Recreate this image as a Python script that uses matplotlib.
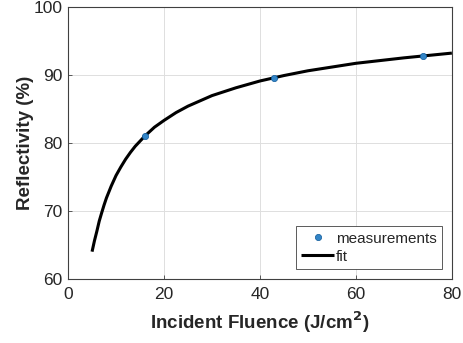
import matplotlib
matplotlib.use("Agg")
import matplotlib.pyplot as plt

# measurement data
meas_x = [16, 43, 74]
meas_y = [81.0, 89.6, 92.8]

# fit curve samples
fit_x = [5, 5.5, 6, 6.5, 7, 7.5, 8, 9, 10, 11, 12, 13, 14, 16, 18, 20, 22.5, 25, 30, 35,
         40, 45, 50, 55, 60, 65, 70, 75, 80]
fit_y = [64.0, 65.6, 67.0, 68.5, 69.7, 70.85, 71.9, 73.65, 75.2, 76.45, 77.6, 78.6, 79.5,
         81.0, 82.3, 83.3, 84.45, 85.4, 86.95, 88.1, 89.1, 89.9, 90.6, 91.15, 91.7, 92.1,
         92.5, 92.85, 93.2]

x_ticks = [0, 20, 40, 60, 80]
y_ticks = [60, 70, 80, 90, 100]

plt.rcParams['font.family'] = ['Liberation Sans', 'DejaVu Sans']

fig = plt.figure(figsize=(4.63, 3.43), dpi=100)
ax = fig.add_axes([0.147, 0.187, 0.829, 0.793])

ax.plot(meas_x, meas_y, 'o', color=(0.2, 0.52, 0.78), markersize=4.5,
        markeredgecolor=(0.05, 0.35, 0.6), markeredgewidth=0.5, label='measurements', zorder=3)
ax.plot(fit_x, fit_y, '-', color='black', linewidth=2.2, label='fit', zorder=2,
        solid_joinstyle='round', solid_capstyle='butt')

ax.set_xlim(0, 80)
ax.set_ylim(60, 100)
ax.set_xticks(x_ticks)
ax.set_yticks(y_ticks)
ax.grid(True, color=(0.87, 0.87, 0.87), linewidth=0.7)
ax.set_axisbelow(True)
for s in ax.spines.values():
    s.set_color((0.25, 0.25, 0.25))
    s.set_linewidth(0.8)
ax.tick_params(direction='in', length=3, width=0.6, colors=(0.25, 0.25, 0.25),
               labelcolor=(0.15, 0.15, 0.15), labelsize=12.5, top=False, right=False)
ax.tick_params(axis='x', pad=6)
ax.tick_params(axis='y', pad=4)

ax.set_xlabel('Incident Fluence (J/cm$^{\\mathbf{2}}$)', fontsize=13.5, fontweight='bold',
              labelpad=5, color=(0.15, 0.15, 0.15))
ax.set_ylabel('Reflectivity (%)', fontsize=13.5, fontweight='bold', labelpad=0,
              color=(0.15, 0.15, 0.15))

leg = ax.legend(loc='lower right', fontsize=11, frameon=True, fancybox=False,
                edgecolor=(0.25, 0.25, 0.25), framealpha=1, borderpad=0.35,
                handlelength=2.1, handletextpad=0.15, labelspacing=0.25, borderaxespad=0.65)
leg.get_frame().set_linewidth(0.6)
for t in leg.get_texts():
    t.set_color((0.15, 0.15, 0.15))

fig.savefig('out.png', dpi=100)
